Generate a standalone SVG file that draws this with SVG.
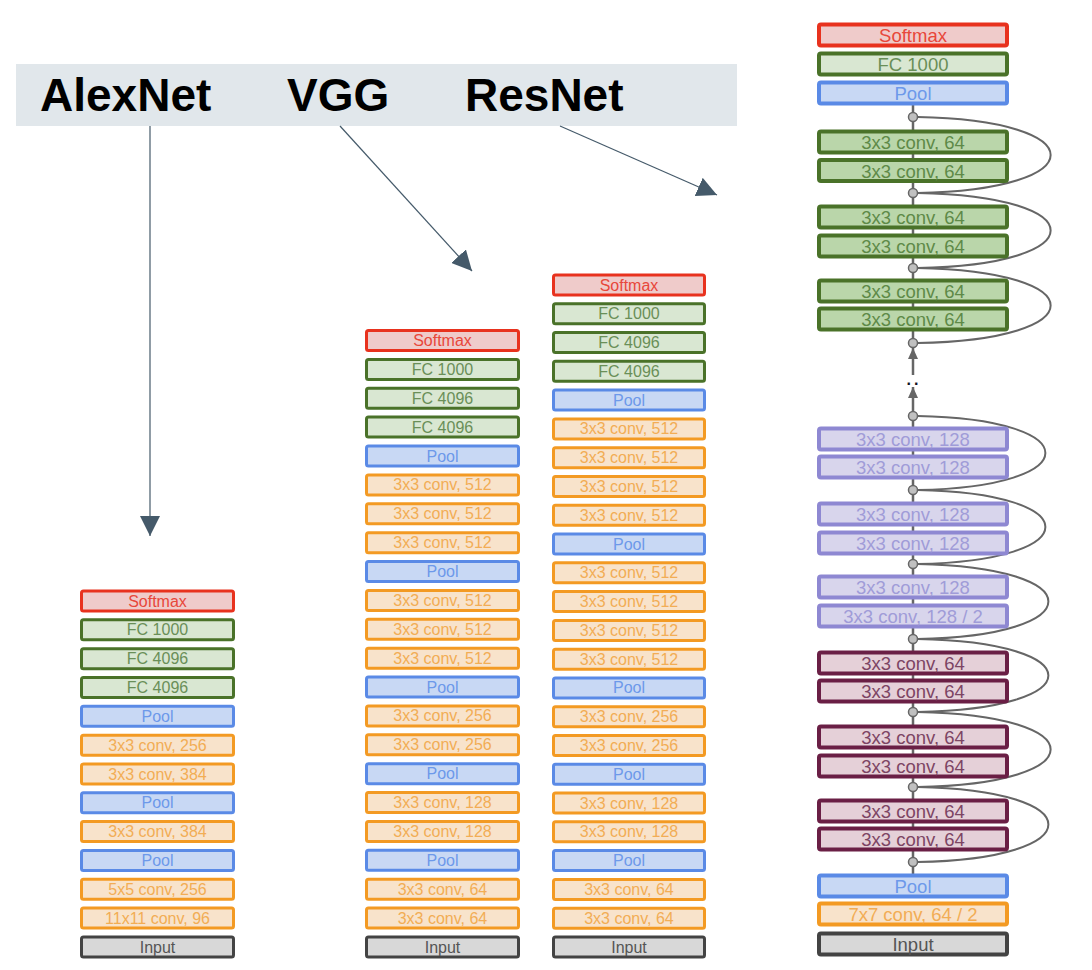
<svg xmlns="http://www.w3.org/2000/svg" width="1092" height="970" viewBox="0 0 1092 970">
<defs>
<marker id="ah" viewBox="0 0 20 20" refX="20" refY="10" markerWidth="20" markerHeight="20" markerUnits="userSpaceOnUse" orient="auto"><path d="M0,0 L20,10 L0,20 z" fill="#455a6a"/></marker>
<marker id="ga" viewBox="0 0 11 10" refX="11" refY="5" markerWidth="11" markerHeight="10" markerUnits="userSpaceOnUse" orient="auto"><path d="M0,0 L11,5 L0,10 z" fill="#666"/></marker>
<style>
text{font-family:"Liberation Sans",Arial,sans-serif;text-anchor:middle}
.t text{font-size:16px}
.r text{font-size:18.5px}
rect{stroke-width:3}
.r rect{stroke-width:4}
.sm rect{fill:#efcbca;stroke:#e8321e}.sm text{fill:#e8473a}
.fc rect{fill:#d9e7d2;stroke:#4a7229}.fc text{fill:#6a8f58}
.pl rect{fill:#c8d8f4;stroke:#5a8ae6}.pl text{fill:#6d99ea}
.cv rect{fill:#f8e3cb;stroke:#f39a23}.cv text{fill:#f2ad55}
.in rect{fill:#d8d8d8;stroke:#434343}.in text{fill:#555}
.g rect{fill:#bad6aa;stroke:#4a7229}.g text{fill:#5e8a48}
.p rect{fill:#d8d5ec;stroke:#8e88d2}.p text{fill:#a09cd8}
.m rect{fill:#e5d0d8;stroke:#6a1f45}.m text{fill:#7d4564}
.arr{stroke:#455a6a;stroke-width:1.2;fill:none}
.skip{stroke:#666;stroke-width:2;fill:none}
.dot{fill:#c0c0c0;stroke:#666;stroke-width:1.5}
.title{font-size:46px;font-weight:bold;fill:#000;text-anchor:start}
</style>
</defs>
<rect width="1092" height="970" fill="#fff"/>
<g id="title-bar">
<rect x="16" y="64" width="721" height="62" fill="#e1e7eb" style="stroke:none"/>
<text class="title" x="40" y="111">AlexNet</text>
<text class="title" x="287" y="111">VGG</text>
<text class="title" x="465" y="111">ResNet</text>
</g>
<g id="connectors">
<line class="arr" x1="150" y1="126" x2="150" y2="536" marker-end="url(#ah)"/>
<line class="arr" x1="340" y1="126" x2="472" y2="271" marker-end="url(#ah)"/>
<line class="arr" x1="560" y1="126" x2="717" y2="195" marker-end="url(#ah)"/>
<line x1="913" y1="104" x2="913" y2="343" stroke="#666" stroke-width="2.5"/>
<line x1="913" y1="416" x2="913" y2="875" stroke="#666" stroke-width="2.5"/>
<line x1="913" y1="412" x2="913" y2="387" stroke="#666" stroke-width="2.5" marker-end="url(#ga)"/>
<line x1="913" y1="375" x2="913" y2="348" stroke="#666" stroke-width="2.5" marker-end="url(#ga)"/>
<path class="skip" d="M917.5 117 C1095 120,1095 190,917.5 193"/>
<path class="skip" d="M917.5 193 C1095 196,1095 265,917.5 268"/>
<path class="skip" d="M917.5 268 C1095 271,1095 340,917.5 343"/>
<path class="skip" d="M917.5 416 C1088 419,1088 487,917.5 490"/>
<path class="skip" d="M917.5 490 C1088 493,1088 561,917.5 564"/>
<path class="skip" d="M917.5 564 C1092 567,1092 636,917.5 639"/>
<path class="skip" d="M917.5 639 C1092 642,1092 709,917.5 712"/>
<path class="skip" d="M917.5 712 C1095 715,1095 784,917.5 787"/>
<path class="skip" d="M917.5 787 C1092 790,1092 859,917.5 862"/>
</g>
<g id="alexnet" class="t">
<g id="a0" class="sm"><rect x="81.5" y="591" width="152" height="20" rx="2"/><text x="157.5" y="606.5">Softmax</text></g>
<g id="a1" class="fc"><rect x="81.5" y="619.8" width="152" height="20" rx="2"/><text x="157.5" y="635.3">FC 1000</text></g>
<g id="a2" class="fc"><rect x="81.5" y="648.7" width="152" height="20" rx="2"/><text x="157.5" y="664.2">FC 4096</text></g>
<g id="a3" class="fc"><rect x="81.5" y="677.5" width="152" height="20" rx="2"/><text x="157.5" y="693">FC 4096</text></g>
<g id="a4" class="pl"><rect x="81.5" y="706.3" width="152" height="20" rx="2"/><text x="157.5" y="721.8">Pool</text></g>
<g id="a5" class="cv"><rect x="81.5" y="735.2" width="152" height="20" rx="2"/><text x="157.5" y="750.7">3x3 conv, 256</text></g>
<g id="a6" class="cv"><rect x="81.5" y="764" width="152" height="20" rx="2"/><text x="157.5" y="779.5">3x3 conv, 384</text></g>
<g id="a7" class="pl"><rect x="81.5" y="792.8" width="152" height="20" rx="2"/><text x="157.5" y="808.3">Pool</text></g>
<g id="a8" class="cv"><rect x="81.5" y="821.6" width="152" height="20" rx="2"/><text x="157.5" y="837.1">3x3 conv, 384</text></g>
<g id="a9" class="pl"><rect x="81.5" y="850.5" width="152" height="20" rx="2"/><text x="157.5" y="866">Pool</text></g>
<g id="a10" class="cv"><rect x="81.5" y="879.3" width="152" height="20" rx="2"/><text x="157.5" y="894.8">5x5 conv, 256</text></g>
<g id="a11" class="cv"><rect x="81.5" y="908.1" width="152" height="20" rx="2"/><text x="157.5" y="923.6">11x11 conv, 96</text></g>
<g id="a12" class="in"><rect x="81.5" y="937" width="152" height="20" rx="2"/><text x="157.5" y="952.5">Input</text></g>
</g>
<g id="vgg16" class="t">
<g id="v0" class="sm"><rect x="366.5" y="330.5" width="152" height="20" rx="2"/><text x="442.5" y="346">Softmax</text></g>
<g id="v1" class="fc"><rect x="366.5" y="359.4" width="152" height="20" rx="2"/><text x="442.5" y="374.9">FC 1000</text></g>
<g id="v2" class="fc"><rect x="366.5" y="388.3" width="152" height="20" rx="2"/><text x="442.5" y="403.8">FC 4096</text></g>
<g id="v3" class="fc"><rect x="366.5" y="417.1" width="152" height="20" rx="2"/><text x="442.5" y="432.6">FC 4096</text></g>
<g id="v4" class="pl"><rect x="366.5" y="446" width="152" height="20" rx="2"/><text x="442.5" y="461.5">Pool</text></g>
<g id="v5" class="cv"><rect x="366.5" y="474.9" width="152" height="20" rx="2"/><text x="442.5" y="490.4">3x3 conv, 512</text></g>
<g id="v6" class="cv"><rect x="366.5" y="503.8" width="152" height="20" rx="2"/><text x="442.5" y="519.3">3x3 conv, 512</text></g>
<g id="v7" class="cv"><rect x="366.5" y="532.7" width="152" height="20" rx="2"/><text x="442.5" y="548.2">3x3 conv, 512</text></g>
<g id="v8" class="pl"><rect x="366.5" y="561.5" width="152" height="20" rx="2"/><text x="442.5" y="577">Pool</text></g>
<g id="v9" class="cv"><rect x="366.5" y="590.4" width="152" height="20" rx="2"/><text x="442.5" y="605.9">3x3 conv, 512</text></g>
<g id="v10" class="cv"><rect x="366.5" y="619.3" width="152" height="20" rx="2"/><text x="442.5" y="634.8">3x3 conv, 512</text></g>
<g id="v11" class="cv"><rect x="366.5" y="648.2" width="152" height="20" rx="2"/><text x="442.5" y="663.7">3x3 conv, 512</text></g>
<g id="v12" class="pl"><rect x="366.5" y="677.1" width="152" height="20" rx="2"/><text x="442.5" y="692.6">Pool</text></g>
<g id="v13" class="cv"><rect x="366.5" y="705.9" width="152" height="20" rx="2"/><text x="442.5" y="721.4">3x3 conv, 256</text></g>
<g id="v14" class="cv"><rect x="366.5" y="734.8" width="152" height="20" rx="2"/><text x="442.5" y="750.3">3x3 conv, 256</text></g>
<g id="v15" class="pl"><rect x="366.5" y="763.7" width="152" height="20" rx="2"/><text x="442.5" y="779.2">Pool</text></g>
<g id="v16" class="cv"><rect x="366.5" y="792.6" width="152" height="20" rx="2"/><text x="442.5" y="808.1">3x3 conv, 128</text></g>
<g id="v17" class="cv"><rect x="366.5" y="821.5" width="152" height="20" rx="2"/><text x="442.5" y="837">3x3 conv, 128</text></g>
<g id="v18" class="pl"><rect x="366.5" y="850.3" width="152" height="20" rx="2"/><text x="442.5" y="865.8">Pool</text></g>
<g id="v19" class="cv"><rect x="366.5" y="879.2" width="152" height="20" rx="2"/><text x="442.5" y="894.7">3x3 conv, 64</text></g>
<g id="v20" class="cv"><rect x="366.5" y="908.1" width="152" height="20" rx="2"/><text x="442.5" y="923.6">3x3 conv, 64</text></g>
<g id="v21" class="in"><rect x="366.5" y="937" width="152" height="20" rx="2"/><text x="442.5" y="952.5">Input</text></g>
</g>
<g id="vgg19" class="t">
<g id="w0" class="sm"><rect x="553.5" y="275" width="151" height="20" rx="2"/><text x="629" y="290.5">Softmax</text></g>
<g id="w1" class="fc"><rect x="553.5" y="303.8" width="151" height="20" rx="2"/><text x="629" y="319.3">FC 1000</text></g>
<g id="w2" class="fc"><rect x="553.5" y="332.6" width="151" height="20" rx="2"/><text x="629" y="348.1">FC 4096</text></g>
<g id="w3" class="fc"><rect x="553.5" y="361.3" width="151" height="20" rx="2"/><text x="629" y="376.8">FC 4096</text></g>
<g id="w4" class="pl"><rect x="553.5" y="390.1" width="151" height="20" rx="2"/><text x="629" y="405.6">Pool</text></g>
<g id="w5" class="cv"><rect x="553.5" y="418.9" width="151" height="20" rx="2"/><text x="629" y="434.4">3x3 conv, 512</text></g>
<g id="w6" class="cv"><rect x="553.5" y="447.7" width="151" height="20" rx="2"/><text x="629" y="463.2">3x3 conv, 512</text></g>
<g id="w7" class="cv"><rect x="553.5" y="476.5" width="151" height="20" rx="2"/><text x="629" y="492">3x3 conv, 512</text></g>
<g id="w8" class="cv"><rect x="553.5" y="505.2" width="151" height="20" rx="2"/><text x="629" y="520.7">3x3 conv, 512</text></g>
<g id="w9" class="pl"><rect x="553.5" y="534" width="151" height="20" rx="2"/><text x="629" y="549.5">Pool</text></g>
<g id="w10" class="cv"><rect x="553.5" y="562.8" width="151" height="20" rx="2"/><text x="629" y="578.3">3x3 conv, 512</text></g>
<g id="w11" class="cv"><rect x="553.5" y="591.6" width="151" height="20" rx="2"/><text x="629" y="607.1">3x3 conv, 512</text></g>
<g id="w12" class="cv"><rect x="553.5" y="620.4" width="151" height="20" rx="2"/><text x="629" y="635.9">3x3 conv, 512</text></g>
<g id="w13" class="cv"><rect x="553.5" y="649.2" width="151" height="20" rx="2"/><text x="629" y="664.7">3x3 conv, 512</text></g>
<g id="w14" class="pl"><rect x="553.5" y="677.9" width="151" height="20" rx="2"/><text x="629" y="693.4">Pool</text></g>
<g id="w15" class="cv"><rect x="553.5" y="706.7" width="151" height="20" rx="2"/><text x="629" y="722.2">3x3 conv, 256</text></g>
<g id="w16" class="cv"><rect x="553.5" y="735.5" width="151" height="20" rx="2"/><text x="629" y="751">3x3 conv, 256</text></g>
<g id="w17" class="pl"><rect x="553.5" y="764.3" width="151" height="20" rx="2"/><text x="629" y="779.8">Pool</text></g>
<g id="w18" class="cv"><rect x="553.5" y="793.1" width="151" height="20" rx="2"/><text x="629" y="808.6">3x3 conv, 128</text></g>
<g id="w19" class="cv"><rect x="553.5" y="821.8" width="151" height="20" rx="2"/><text x="629" y="837.3">3x3 conv, 128</text></g>
<g id="w20" class="pl"><rect x="553.5" y="850.6" width="151" height="20" rx="2"/><text x="629" y="866.1">Pool</text></g>
<g id="w21" class="cv"><rect x="553.5" y="879.4" width="151" height="20" rx="2"/><text x="629" y="894.9">3x3 conv, 64</text></g>
<g id="w22" class="cv"><rect x="553.5" y="908.2" width="151" height="20" rx="2"/><text x="629" y="923.7">3x3 conv, 64</text></g>
<g id="w23" class="in"><rect x="553.5" y="937" width="151" height="20" rx="2"/><text x="629" y="952.5">Input</text></g>
</g>
<g id="resnet" class="r">
<g id="r0" class="sm"><rect x="819" y="24.5" width="188" height="21" rx="2"/><text x="913" y="41.5">Softmax</text></g>
<g id="r1" class="fc"><rect x="819" y="53.5" width="188" height="21" rx="2"/><text x="913" y="70.5">FC 1000</text></g>
<g id="r2" class="pl"><rect x="819" y="82.5" width="188" height="21" rx="2"/><text x="913" y="99.5">Pool</text></g>
<g id="r3" class="g"><rect x="819" y="131.5" width="188" height="21" rx="2"/><text x="913" y="149">3x3 conv, 64</text></g>
<g id="r4" class="g"><rect x="819" y="160" width="188" height="21" rx="2"/><text x="913" y="177.5">3x3 conv, 64</text></g>
<g id="r5" class="g"><rect x="819" y="206.5" width="188" height="21" rx="2"/><text x="913" y="224">3x3 conv, 64</text></g>
<g id="r6" class="g"><rect x="819" y="235.5" width="188" height="21" rx="2"/><text x="913" y="253">3x3 conv, 64</text></g>
<g id="r7" class="g"><rect x="819" y="280.5" width="188" height="21" rx="2"/><text x="913" y="298">3x3 conv, 64</text></g>
<g id="r8" class="g"><rect x="819" y="308.5" width="188" height="21" rx="2"/><text x="913" y="326">3x3 conv, 64</text></g>
<g id="r9" class="p"><rect x="819" y="428.5" width="188" height="21" rx="2"/><text x="913" y="446">3x3 conv, 128</text></g>
<g id="r10" class="p"><rect x="819" y="456.5" width="188" height="21" rx="2"/><text x="913" y="474">3x3 conv, 128</text></g>
<g id="r11" class="p"><rect x="819" y="503.5" width="188" height="21" rx="2"/><text x="913" y="521">3x3 conv, 128</text></g>
<g id="r12" class="p"><rect x="819" y="532.5" width="188" height="21" rx="2"/><text x="913" y="550">3x3 conv, 128</text></g>
<g id="r13" class="p"><rect x="819" y="576.5" width="188" height="21" rx="2"/><text x="913" y="594">3x3 conv, 128</text></g>
<g id="r14" class="p"><rect x="819" y="605.5" width="188" height="21" rx="2"/><text x="913" y="623">3x3 conv, 128 / 2</text></g>
<g id="r15" class="m"><rect x="819" y="652.5" width="188" height="21" rx="2"/><text x="913" y="670">3x3 conv, 64</text></g>
<g id="r16" class="m"><rect x="819" y="680.5" width="188" height="21" rx="2"/><text x="913" y="698">3x3 conv, 64</text></g>
<g id="r17" class="m"><rect x="819" y="726.5" width="188" height="21" rx="2"/><text x="913" y="744">3x3 conv, 64</text></g>
<g id="r18" class="m"><rect x="819" y="755.5" width="188" height="21" rx="2"/><text x="913" y="773">3x3 conv, 64</text></g>
<g id="r19" class="m"><rect x="819" y="800.5" width="188" height="21" rx="2"/><text x="913" y="818">3x3 conv, 64</text></g>
<g id="r20" class="m"><rect x="819" y="828.5" width="188" height="21" rx="2"/><text x="913" y="846">3x3 conv, 64</text></g>
<g id="r21" class="pl"><rect x="819" y="875.5" width="188" height="21" rx="2"/><text x="913" y="893">Pool</text></g>
<g id="r22" class="cv"><rect x="819" y="903.5" width="188" height="21" rx="2"/><text x="913" y="921">7x7 conv, 64 / 2</text></g>
<g id="r23" class="in"><rect x="819" y="933.5" width="188" height="21" rx="2"/><text x="913" y="951">Input</text></g>
</g>
<g id="junctions">
<circle class="dot" cx="913" cy="117" r="4.5"/>
<circle class="dot" cx="913" cy="193" r="4.5"/>
<circle class="dot" cx="913" cy="268" r="4.5"/>
<circle class="dot" cx="913" cy="343" r="4.5"/>
<circle class="dot" cx="913" cy="416" r="4.5"/>
<circle class="dot" cx="913" cy="490" r="4.5"/>
<circle class="dot" cx="913" cy="564" r="4.5"/>
<circle class="dot" cx="913" cy="639" r="4.5"/>
<circle class="dot" cx="913" cy="712" r="4.5"/>
<circle class="dot" cx="913" cy="787" r="4.5"/>
<circle class="dot" cx="913" cy="862" r="4.5"/>
<text x="914" y="385" style="font-size:16px;font-weight:bold;letter-spacing:3px;fill:#112">..</text>
</g>
</svg>
